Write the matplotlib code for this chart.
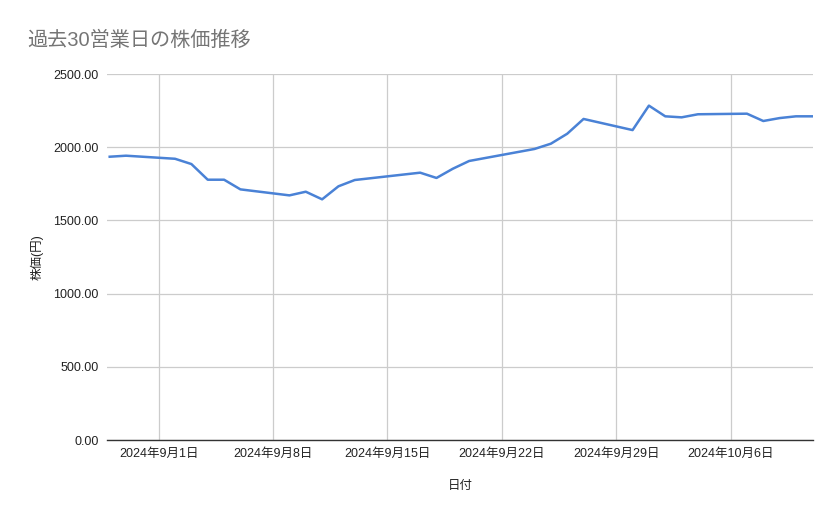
import numpy as np
import pandas as pd
import matplotlib
matplotlib.use('Agg')
import matplotlib.pyplot as plt
import matplotlib.dates as mdates
from matplotlib.ticker import FuncFormatter

plt.rcParams['font.family'] = ['Liberation Sans', 'Noto Sans CJK JP', 'DejaVu Sans']

# Trading days (weekends and JP holidays skipped)
dates = pd.to_datetime([
    '2024-08-29', '2024-08-30',
    '2024-09-02', '2024-09-03', '2024-09-04', '2024-09-05', '2024-09-06',
    '2024-09-09', '2024-09-10', '2024-09-11', '2024-09-12', '2024-09-13',
    '2024-09-17', '2024-09-18', '2024-09-19', '2024-09-20',
    '2024-09-24', '2024-09-25', '2024-09-26', '2024-09-27',
    '2024-09-30', '2024-10-01', '2024-10-02', '2024-10-03', '2024-10-04',
    '2024-10-07', '2024-10-08', '2024-10-09', '2024-10-10', '2024-10-11',
])
prices = [
    1935, 1942,
    1921, 1885, 1778, 1778, 1712,
    1671, 1696, 1644, 1733, 1776,
    1826, 1790, 1853, 1906,
    1988, 2024, 2092, 2193,
    2117, 2284, 2211, 2204, 2225,
    2229, 2179, 2199, 2211, 2211,
]
week_ticks = pd.to_datetime(['2024-09-01', '2024-09-08', '2024-09-15',
                             '2024-09-22', '2024-09-29', '2024-10-06'])
y_ticks = [0, 500, 1000, 1500, 2000, 2500]

fig = plt.figure(figsize=(8.39, 5.19), dpi=100)
ax = fig.add_axes([0.1275, 0.1522, 0.8415, 0.7052])

ax.plot(dates, prices, color='#4a82d6', linewidth=1.8)

ax.set_xlim(dates[0] - pd.Timedelta(hours=4), dates[-1] + pd.Timedelta(hours=1))
ax.set_ylim(0, 2500)
ax.set_xticks(week_ticks)
ax.xaxis.set_major_formatter(FuncFormatter(
    lambda v, pos: (lambda d: f'{d.year}年{d.month}月{d.day}日')(mdates.num2date(v))))
ax.set_yticks(y_ticks)
ax.yaxis.set_major_formatter(FuncFormatter(lambda v, pos: f'{v:.2f}'))

ax.grid(True, color='#cccccc', linewidth=0.9)
ax.set_axisbelow(True)
for s in ['top', 'right', 'left']:
    ax.spines[s].set_visible(False)
ax.spines['bottom'].set_color('#333333')
ax.spines['bottom'].set_linewidth(1.0)
ax.tick_params(axis='both', length=0, labelsize=9, colors='#222222')
ax.tick_params(axis='x', pad=6)
ax.tick_params(axis='y', pad=6)

ax.set_xlabel('日付', fontsize=9, color='#222222', labelpad=14)
ax.set_ylabel('株価(円)', fontsize=9, color='#222222', labelpad=7)

fig.text(27 / 839, 1 - 40 / 519, '過去30営業日の株価推移', fontsize=14.5,
         color='#757575', va='center', ha='left')

fig.savefig('out.png', dpi=100)
